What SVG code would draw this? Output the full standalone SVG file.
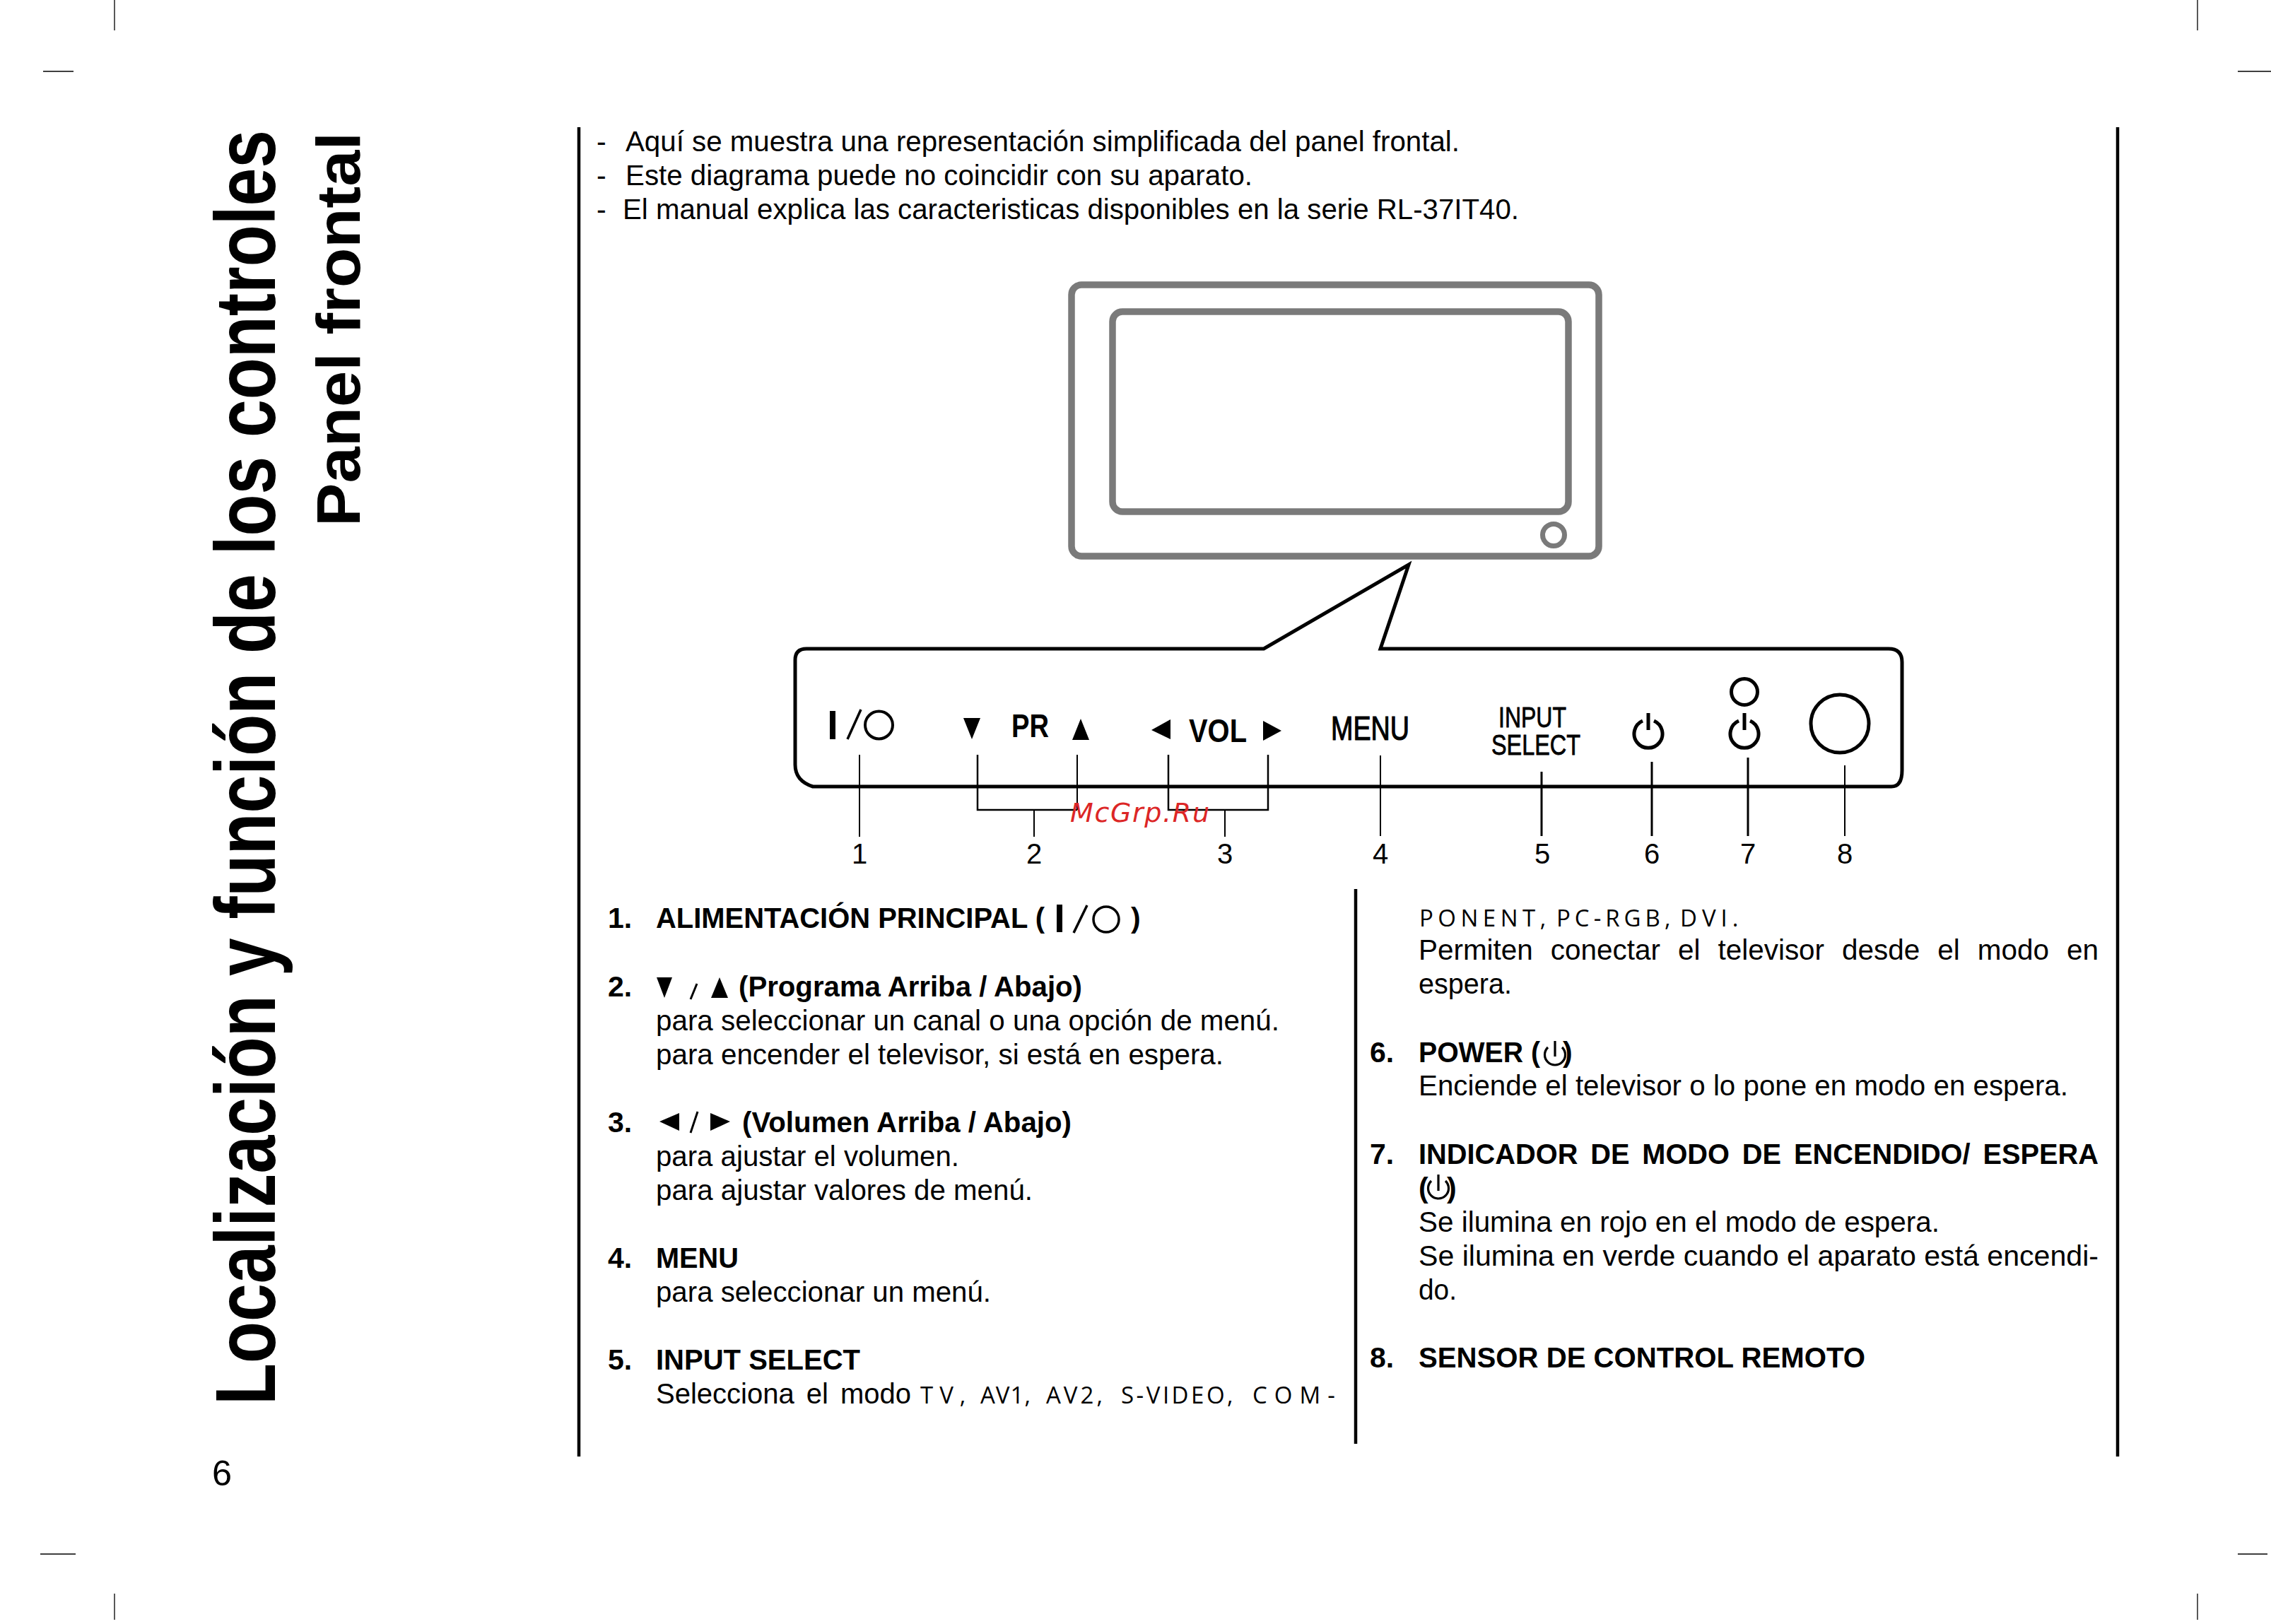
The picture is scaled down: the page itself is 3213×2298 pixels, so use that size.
<svg xmlns="http://www.w3.org/2000/svg" width="3213" height="2298" viewBox="0 0 3213 2298">
<style>
text{font-family:"Liberation Sans",Arial,sans-serif;fill:#000}
.b{font-size:41px}
.h{font-size:41px;font-weight:700}
.sp{font-family:"Open Sans","Liberation Sans",sans-serif;font-size:33px}
.ln{stroke:#000;stroke-width:2;fill:none}
.lt{stroke:#000;stroke-width:3;fill:none}
.br{stroke:#000;stroke-width:2.5;fill:none}
.crop{stroke:#000;stroke-width:1.3;fill:none}
.rule{stroke:#000;stroke-width:4.5;fill:none}
.tv{stroke:#7a7a7a;stroke-width:9.5;fill:none}
.sym{stroke:#000;fill:none}
</style>
<rect width="3213" height="2298" fill="#fff"/>
<g id="crop-marks">
<path class="crop" d="M162 0V43M61 101H104M3109 0V43M3166 101H3213M57 2199H107M162 2255V2292M3166 2199H3208M3109 2255V2292"/>
</g>
<g id="titles">
<text transform="translate(389 1988) rotate(-90)" font-size="120" font-weight="700" textLength="1804" lengthAdjust="spacingAndGlyphs">Localización y función de los controles</text>
<text transform="translate(509 745) rotate(-90)" font-size="87" font-weight="700" textLength="558" lengthAdjust="spacingAndGlyphs">Panel frontal</text>
<text x="300" y="2102" font-size="50" textLength="28" lengthAdjust="spacingAndGlyphs">6</text>
</g>
<g id="rules">
<path class="rule" d="M819 180V2061M1918 1258V2043M2996 180V2061"/>
</g>
<g id="intro">
<text class="b" x="844" y="214">-</text><text class="b" x="885" y="214" textLength="1180" lengthAdjust="spacingAndGlyphs">Aquí se muestra una representación simplificada del panel frontal.</text>
<text class="b" x="844" y="262">-</text><text class="b" x="885" y="262" textLength="887" lengthAdjust="spacingAndGlyphs">Este diagrama puede no coincidir con su aparato.</text>
<text class="b" x="844" y="310">-</text><text class="b" x="881" y="310" textLength="1268" lengthAdjust="spacingAndGlyphs">El manual explica las caracteristicas disponibles en la serie RL-37IT40.</text>
</g>
<g id="tv">
<rect class="tv" x="1516" y="403" width="746" height="384" rx="14"/>
<rect class="tv" x="1574" y="441" width="645" height="283" rx="14"/>
<circle cx="2198" cy="757" r="15.5" fill="none" stroke="#7a7a7a" stroke-width="7"/>
</g>
<g id="front-panel">
<path d="M1141 918H1788L1993 799L1953 918H2672Q2691 918 2691 937V1090Q2691 1113 2676 1113H1150Q1125 1105 1125 1082V934Q1125 918 1141 918Z" fill="none" stroke="#000" stroke-width="5"/>
</g>
<g id="connectors">
<path class="ln" d="M1216 1068V1184M1524 1068V1146M1463 1146V1184M1733 1146V1184"/>
<path class="br" d="M1383 1068V1146H1524M1653 1068V1146H1794V1068"/>
<path class="ln" d="M1953 1069V1183M2610 1083V1183"/>
<path class="lt" d="M2181 1092V1183M2337 1078V1183M2473 1072V1183"/>
</g>
<g id="btn-power-main">
<rect x="1174" y="1006" width="8" height="40"/>
<path class="sym" stroke-width="3.5" d="M1199 1046L1218 1004"/>
<circle class="sym" stroke-width="4" cx="1243.5" cy="1026" r="19.5"/>
</g>
<g id="btn-pr">
<path d="M1363 1016H1387L1375 1046Z"/>
<text x="1431" y="1043" font-size="46" font-weight="700" textLength="53" lengthAdjust="spacingAndGlyphs">PR</text>
<path d="M1517 1047H1541L1529 1017Z"/>
</g>
<g id="btn-vol">
<path d="M1656 1018V1046L1629 1033Z"/>
<text x="1682" y="1050" font-size="46" font-weight="700" textLength="82" lengthAdjust="spacingAndGlyphs">VOL</text>
<path d="M1787 1020V1048L1813 1034Z"/>
</g>
<g id="btn-menu">
<text x="1883" y="1047" font-size="48" stroke="#000" stroke-width="1.2" textLength="111" lengthAdjust="spacingAndGlyphs">MENU</text>
</g>
<g id="btn-input">
<text x="2120" y="1029" font-size="40" stroke="#000" stroke-width=".8" textLength="96" lengthAdjust="spacingAndGlyphs">INPUT</text>
<text x="2110" y="1068" font-size="40" stroke="#000" stroke-width=".8" textLength="126" lengthAdjust="spacingAndGlyphs">SELECT</text>
</g>
<g id="btn-standby">
<path class="sym" stroke-width="5" d="M2324 1020A20 20 0 1 0 2340 1020M2332 1009V1033"/>
</g>
<g id="led-standby">
<circle class="sym" stroke-width="5" cx="2468" cy="979" r="18.5"/>
<path class="sym" stroke-width="5" d="M2460 1020A20 20 0 1 0 2476 1020M2468 1009V1033"/>
</g>
<g id="sensor">
<circle class="sym" stroke-width="5" cx="2603" cy="1024" r="41"/>
</g>
<g id="callout-numbers">
<g font-size="40" text-anchor="middle">
<text x="1216" y="1222">1</text><text x="1463" y="1222">2</text><text x="1733" y="1222">3</text><text x="1953" y="1222">4</text><text x="2182" y="1222">5</text><text x="2337" y="1222">6</text><text x="2473" y="1222">7</text><text x="2610" y="1222">8</text>
</g>
</g>
<g id="col-left">
<text class="h" x="860" y="1313">1.</text>
<text class="h" x="928" y="1313" textLength="550" lengthAdjust="spacingAndGlyphs">ALIMENTACIÓN PRINCIPAL (</text>
<rect x="1495" y="1280" width="8" height="39"/>
<path class="sym" stroke-width="3.5" d="M1519 1320L1538 1281"/>
<circle class="sym" stroke-width="3.5" cx="1565" cy="1301" r="18"/>
<text class="h" x="1600" y="1313">)</text>

<text class="h" x="860" y="1410">2.</text>
<path d="M929 1383H951L940 1412ZM1006 1412H1030L1018 1383Z"/>
<path class="sym" stroke-width="3" d="M977 1414L986 1392"/>
<text class="h" x="1045" y="1410" textLength="486" lengthAdjust="spacingAndGlyphs">(Programa Arriba / Abajo)</text>
<text class="b" x="928" y="1458" textLength="882" lengthAdjust="spacingAndGlyphs">para seleccionar un canal o una opción de menú.</text>
<text class="b" x="928" y="1506" textLength="803" lengthAdjust="spacingAndGlyphs">para encender el televisor, si está en espera.</text>

<text class="h" x="860" y="1602">3.</text>
<path d="M961 1575V1600L933 1587ZM1005 1575V1600L1033 1587Z"/>
<path class="sym" stroke-width="3" d="M977 1603L987 1573"/>
<text class="h" x="1050" y="1602" textLength="466" lengthAdjust="spacingAndGlyphs">(Volumen Arriba / Abajo)</text>
<text class="b" x="928" y="1650" textLength="429" lengthAdjust="spacingAndGlyphs">para ajustar el volumen.</text>
<text class="b" x="928" y="1698" textLength="533" lengthAdjust="spacingAndGlyphs">para ajustar valores de menú.</text>

<text class="h" x="860" y="1794">4.</text>
<text class="h" x="928" y="1794" textLength="117" lengthAdjust="spacingAndGlyphs">MENU</text>
<text class="b" x="928" y="1842" textLength="474" lengthAdjust="spacingAndGlyphs">para seleccionar un menú.</text>

<text class="h" x="860" y="1938">5.</text>
<text class="h" x="928" y="1938" textLength="289" lengthAdjust="spacingAndGlyphs">INPUT SELECT</text>
<text class="b" x="928" y="1986" textLength="361" lengthAdjust="spacingAndGlyphs" word-spacing="6">Selecciona el modo</text>
<text class="sp" y="1986"><tspan x="1302" letter-spacing="9">TV, </tspan><tspan x="1387" letter-spacing="1">AV1, </tspan><tspan x="1480" letter-spacing="4">AV2, </tspan><tspan x="1586" letter-spacing="3.5">S-VIDEO, </tspan><tspan x="1772" letter-spacing="10">COM-</tspan></text>
</g>
<g id="col-right">
<text class="sp" y="1311"><tspan x="2008" letter-spacing="6.5">PONENT, </tspan><tspan x="2202" letter-spacing="6">PC-RGB, </tspan><tspan x="2377" letter-spacing="7">DVI.</tspan></text>
<text class="b" x="2007" y="1358" textLength="962" lengthAdjust="spacingAndGlyphs" word-spacing="14">Permiten conectar el televisor desde el modo en</text>
<text class="b" x="2007" y="1406" textLength="132" lengthAdjust="spacingAndGlyphs">espera.</text>

<text class="h" x="1938" y="1503">6.</text>
<text class="h" x="2007" y="1503" textLength="172" lengthAdjust="spacingAndGlyphs">POWER (</text>
<path class="sym" stroke-width="3.2" d="M2190 1482A14.5 14.5 0 1 0 2210 1482M2200 1473V1495"/>
<text class="h" x="2211" y="1503">)</text>
<text class="b" x="2007" y="1550" textLength="919" lengthAdjust="spacingAndGlyphs">Enciende el televisor o lo pone en modo en espera.</text>

<text class="h" x="1938" y="1647">7.</text>
<text class="h" x="2007" y="1647" textLength="962" lengthAdjust="spacingAndGlyphs" word-spacing="7">INDICADOR DE MODO DE ENCENDIDO/ ESPERA</text>
<text class="h" x="2007" y="1695">(</text>
<path class="sym" stroke-width="3.2" d="M2025 1671A14.5 14.5 0 1 0 2045 1671M2035 1662V1685"/>
<text class="h" x="2047" y="1695">)</text>
<text class="b" x="2007" y="1743" textLength="737" lengthAdjust="spacingAndGlyphs">Se ilumina en rojo en el modo de espera.</text>
<text class="b" x="2007" y="1791" textLength="962" lengthAdjust="spacingAndGlyphs">Se ilumina en verde cuando el aparato está encendi-</text>
<text class="b" x="2007" y="1839" textLength="54" lengthAdjust="spacingAndGlyphs">do.</text>

<text class="h" x="1938" y="1935">8.</text>
<text class="h" x="2007" y="1935" textLength="632" lengthAdjust="spacingAndGlyphs">SENSOR DE CONTROL REMOTO</text>
</g>
<g id="watermark">
<text x="1514" y="1163" font-size="38" font-style="italic" style="font-family:'DejaVu Sans',sans-serif;fill:#dc2626" textLength="197" lengthAdjust="spacing">McGrp.Ru</text>
</g>
</svg>
